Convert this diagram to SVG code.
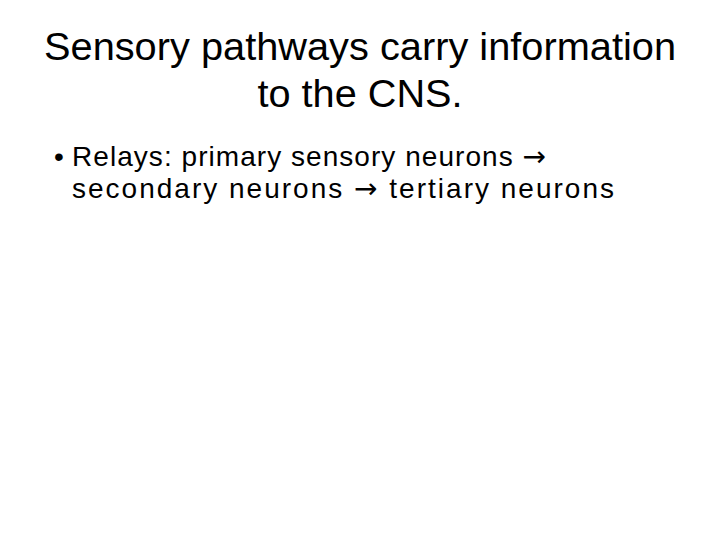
<svg xmlns="http://www.w3.org/2000/svg" width="720" height="540" viewBox="0 0 720 540">
<style>
.t{font-family:"Liberation Sans",Arial,sans-serif;fill:#000}
.a{font-family:"DejaVu Sans",sans-serif}
</style>
<rect width="720" height="540" fill="#fff"/>
<g id="title">
<text class="t" x="360" y="60" font-size="38" text-anchor="middle" textLength="632" lengthAdjust="spacingAndGlyphs">Sensory pathways carry information</text>
<text class="t" x="360" y="107" font-size="38" text-anchor="middle" textLength="205" lengthAdjust="spacingAndGlyphs">to the CNS.</text>
</g>
<g id="bullet">
<text class="t" x="54" y="166" font-size="28">•</text>
<text class="t" x="72" y="166" font-size="28" textLength="474" lengthAdjust="spacing">Relays: primary sensory neurons <tspan class="a">→</tspan></text>
<text class="t" x="72" y="198" font-size="28" textLength="542" lengthAdjust="spacing">secondary neurons <tspan class="a">→</tspan> tertiary neurons</text>
</g>
</svg>
